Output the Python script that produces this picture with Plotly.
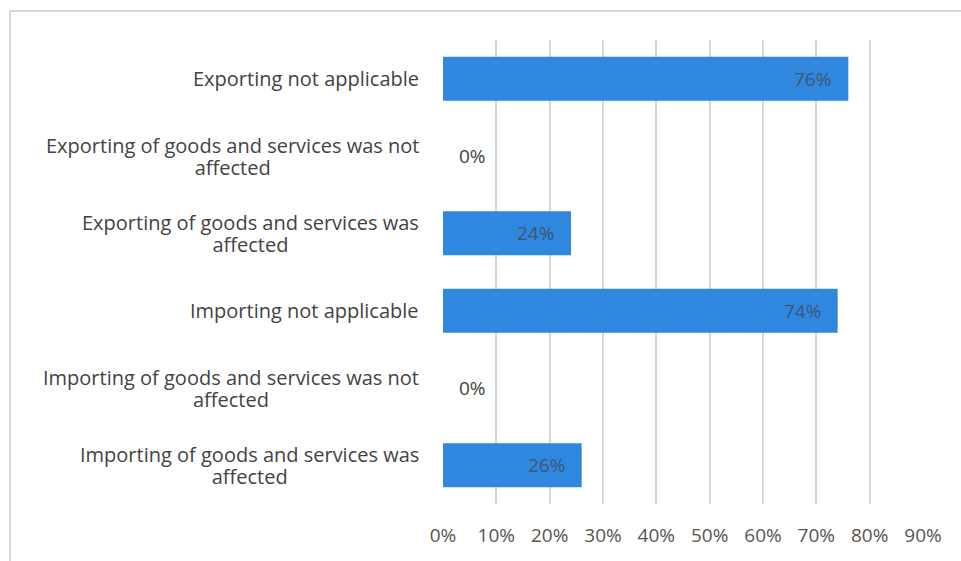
import plotly.graph_objects as go

# Survey responses on trade disruption (share of respondents, %)
categories = [
    "Exporting not applicable",
    "Exporting of goods and services was not<br>affected",
    "Exporting of goods and services was<br>affected",
    "Importing not applicable",
    "Importing of goods and services was not<br>affected",
    "Importing of goods and services was<br>affected",
]
values = [76, 0, 24, 74, 0, 26]
tick_values = [0, 10, 20, 30, 40, 50, 60, 70, 80, 90]
tick_labels = [f"{t}%" for t in tick_values]

BAR = "#2F88DE"
GRID = "#D3D9E2"
TEXT = "#434343"
INNER = "#3E5676"
FONT = "Open Sans"
LABEL_SIZE = 20
LINE_GAP = 22  # px between lines of a wrapped category label

W, H = 961, 561
L, R, T, B = 443, 38, 40, 57
pw, ph = W - L - R, H - T - B

fig = go.Figure(
    go.Bar(
        x=values,
        y=categories,
        orientation="h",
        marker=dict(color=BAR, line=dict(width=0)),
        width=0.57,
        hoverinfo="skip",
    )
)

# Line spacing follows the annotation's base font size (1.3 x size), so the base
# size sets the gap while a span sets the visible glyph size.
base_size = LINE_GAP / 1.3

annotations = []
for c in categories:
    lines = c.split("<br>")
    styled = "<br>".join(
        f'<span style="font-size:{LABEL_SIZE}px">{ln}</span>' for ln in lines
    )
    annotations.append(dict(
        x=0, xref="paper", y=c, yref="y",
        text=styled, showarrow=False,
        xanchor="right", align="center",
        xshift=-22,
        font=dict(family=FONT, size=base_size, color=TEXT),
    ))

# value labels
for c, v in zip(categories, values):
    if v > 0:
        annotations.append(dict(
            x=v, y=c, text=f"{v}%", showarrow=False,
            xanchor="right", xshift=-15,
            font=dict(family=FONT, size=LABEL_SIZE - 1, color=INNER),
        ))
    else:
        annotations.append(dict(
            x=v, y=c, text=f"{v}%", showarrow=False,
            xanchor="left", xshift=14,
            font=dict(family=FONT, size=LABEL_SIZE - 1, color=TEXT),
        ))

# frame lines (top and left) around the chart area
shapes = [
    dict(type="line", xref="paper", yref="paper",
         x0=(10 - L) / pw, x1=(W + 5 - L) / pw,
         y0=1 + (T - 11) / ph, y1=1 + (T - 11) / ph,
         line=dict(color=GRID, width=2)),
    dict(type="line", xref="paper", yref="paper",
         x0=(10 - L) / pw, x1=(10 - L) / pw,
         y0=1 + (T - 11) / ph, y1=-(B + 5) / ph,
         line=dict(color=GRID, width=2)),
]

fig.update_layout(
    width=W, height=H,
    margin=dict(l=L, r=R, t=T, b=B, pad=0),
    paper_bgcolor="white", plot_bgcolor="white",
    showlegend=False,
    bargap=0.43,
    annotations=annotations,
    shapes=shapes,
    xaxis=dict(
        range=[0, 90],
        tickvals=tick_values, ticktext=tick_labels,
        showgrid=True, gridcolor=GRID, gridwidth=1.5,
        zeroline=False, showline=False,
        ticks="", ticklabelstandoff=18,
        tickfont=dict(family=FONT, size=LABEL_SIZE - 1, color="#555555"),
        fixedrange=True,
    ),
    yaxis=dict(
        autorange="reversed",
        showticklabels=False, showgrid=False, zeroline=False,
        showline=False, ticks="",
        fixedrange=True,
    ),
)

fig.write_html("out.html", config={"displayModeBar": False})
